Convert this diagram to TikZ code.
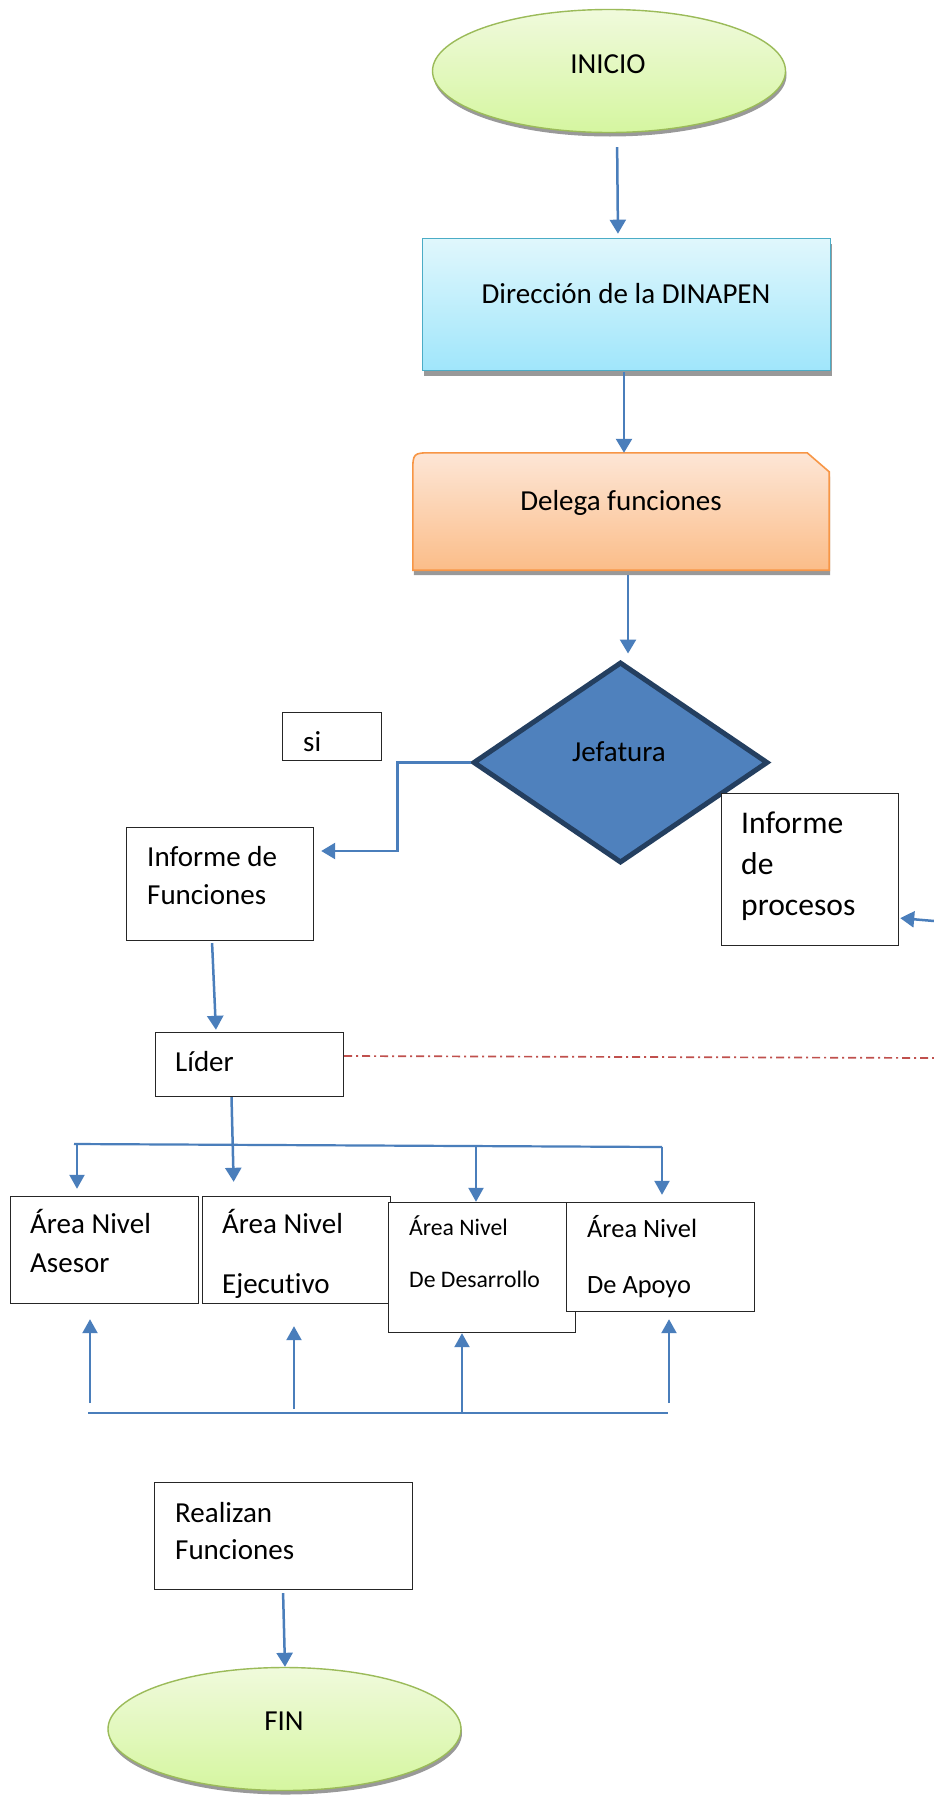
\documentclass[tikz,border=0pt]{standalone}
\usepackage{fontspec}
\setmainfont{Carlito}[Ligatures=NoCommon]
\usetikzlibrary{arrows.meta,shapes.geometric,shadows}
\definecolor{cblue}{HTML}{4A7EBB}
\definecolor{gborder}{HTML}{9BBB59}
\definecolor{gtop}{HTML}{F0FADC}
\definecolor{gbot}{HTML}{D5F6A0}
\definecolor{cyborder}{HTML}{4BACC6}
\definecolor{cytop}{HTML}{E0F7FC}
\definecolor{cybot}{HTML}{A0E6FB}
\definecolor{orborder}{HTML}{F79646}
\definecolor{ortop}{HTML}{FDE6D6}
\definecolor{orbot}{HTML}{FBBD89}
\definecolor{dfill}{HTML}{4F81BD}
\definecolor{dborder}{HTML}{243F60}
\definecolor{redl}{HTML}{C0504D}
\newcommand\myfA{\fontsize{29}{35}\selectfont}
\newcommand\myfB{\fontsize{31.6}{38}\selectfont}
\newcommand\myfC{\fontsize{23.7}{29}\selectfont}
\newcommand\myfD{\fontsize{26.4}{32}\selectfont}
\tikzset{
  conn/.style={draw=cblue, line width=2.5pt, -{Triangle[width=16pt,length=14pt]}},
  conntwo/.style={draw=cblue, line width=2.2pt, -{Triangle[width=15pt,length=14pt]}},
  hline/.style={draw=cblue, line width=2.2pt},
  box/.style={rectangle, draw=black!85, line width=1.4pt, fill=white, inner sep=0pt},
  txt/.style={inner sep=0pt, font=\myfA, anchor=base west},
  term/.style={ellipse, draw=gborder, line width=1.4pt, top color=gtop, bottom color=gbot,
    minimum width=353pt, minimum height=123pt, inner sep=0pt,
    drop shadow={shadow xshift=1pt, shadow yshift=-4pt, fill=black!40, opacity=1}},
  redline/.style={draw=redl, line width=1.7pt, dash pattern=on 8pt off 4pt on 2pt off 4pt}
}
\begin{document}
\begin{tikzpicture}[x=1pt,y=-1pt]
\fill[white] (0,0) rectangle (934,1796);
\useasboundingbox (0,0) rectangle (934,1796);

% INICIO
\node[term] (inicio) at (609,71) {};
\node[txt, anchor=base] (tinicio) at (608,73) {INICIO};

% Direccion
\node[rectangle, draw=cyborder, line width=1.6pt, top color=cytop, bottom color=cybot,
  minimum width=408pt, minimum height=132pt, inner sep=0pt,
  drop shadow={shadow xshift=1pt, shadow yshift=-5pt, fill=black!40, opacity=1}] (dir) at (626.5,304.5) {};
\node[txt, anchor=base] (tdir) at (626,303) {Dirección de la DINAPEN};

% Delega funciones
\node[rectangle, minimum width=416pt, minimum height=117pt, inner sep=0pt] (delega) at (621,511.5) {};
\draw[draw=orborder, line width=1.6pt, top color=ortop, bottom color=orbot,
  drop shadow={shadow xshift=1pt, shadow yshift=-5pt, fill=black!40, opacity=1}]
  (delega.south west) -- ([yshift=-20pt]delega.north west)
  .. controls (delega.north west) .. ([xshift=20pt]delega.north west)
  -- ([xshift=-22pt]delega.north east) -- ([yshift=-19pt]delega.north east)
  -- (delega.south east) -- cycle;
\node[txt, anchor=base] (tdelega) at (621,510) {Delega funciones};

% Jefatura
\node[diamond, draw=dborder, line width=5pt, fill=dfill, minimum width=295pt,
  minimum height=201pt, inner sep=0pt] (jef) at (620.5,762.5) {};
\node[txt, anchor=base] (tjef) at (619,761) {Jefatura};

% si
\node[box, minimum width=99pt, minimum height=48pt] (si) at (332,736.5) {};
\node[txt] (tsi) at (303,751) {si};

% Informe de Funciones
\node[box, minimum width=187pt, minimum height=113pt] (infF) at (220,884) {};
\node[txt] (tinfF1) at (147,866) {Informe de};
\node[txt] (tinfF2) at (147,904) {Funciones};

% Informe de procesos
\node[box, minimum width=177pt, minimum height=152pt] (infP) at (810,869.5) {};
\node[txt, font=\myfB] (tinfP1) at (741,833) {Informe};
\node[txt, font=\myfB] (tinfP2) at (741,874) {de};
\node[txt, font=\myfB] (tinfP3) at (741,915) {procesos};

% Lider
\node[box, minimum width=188pt, minimum height=64pt] (lider) at (249.5,1064.5) {};
\node[txt] (tlider) at (175,1071) {Líder};

% Area boxes
\node[box, minimum width=188pt, minimum height=107pt] (ase) at (104.5,1250) {};
\node[box, minimum width=188pt, minimum height=107pt] (eje) at (296.5,1250) {};
\node[box, minimum width=187pt, minimum height=130pt] (des) at (482,1267.5) {};
\node[box, minimum width=188pt, minimum height=109pt] (apo) at (660.5,1257) {};
\node[txt] (tase1) at (30,1233) {Área Nivel};
\node[txt] (tase2) at (30,1272) {Asesor};
\node[txt] (teje1) at (222,1233) {Área Nivel};
\node[txt] (teje2) at (222,1293) {Ejecutivo};
\node[txt, font=\myfC] (tdes1) at (409,1235) {Área Nivel};
\node[txt, font=\myfC] (tdes2) at (409,1287) {De Desarrollo};
\node[txt, font=\myfD] (tapo1) at (587,1237) {Área Nivel};
\node[txt, font=\myfD] (tapo2) at (587,1293) {De Apoyo};

% Realizan Funciones
\node[box, minimum width=258pt, minimum height=107pt] (rea) at (283.5,1536) {};
\node[txt] (trea1) at (175,1522) {Realizan};
\node[txt] (trea2) at (175,1559) {Funciones};

% FIN
\node[term] (fin) at (284.5,1729) {};
\node[txt, anchor=base] (tfin) at (284,1730) {FIN};

% Connectors
\draw[conn, shorten <=14pt, shorten >=4pt] ([xshift=8pt]inicio.south) -- ([xshift=-8.5pt]dir.north);
\draw[conn, shorten <=1pt] ([xshift=-2.5pt]dir.south) -- ([xshift=-2.5pt]dir.south |- delega.north);
\draw[conn, shorten <=5pt, shorten >=6pt] ([xshift=7pt]delega.south) -- ([xshift=7pt]delega.south |- jef.north);
\draw[conn, shorten >=7pt] (jef.west) -- ++(-73,0) |- ([yshift=33pt]infF.east);
\coordinate (pin) at (934,921);
\draw[conn, shorten >=1pt] (pin) -- ([yshift=-48.5pt]infP.east);
\draw[conn, shorten <=2pt, shorten >=2pt] ([xshift=-8pt]infF.south) -- ([xshift=-33.5pt]lider.north);
\coordinate (rend) at (934,1058);
\draw[redline] ([yshift=8.5pt]lider.east) -- (rend);
\draw[conn, shorten >=14pt] ([xshift=-18pt]lider.south) -- ([xshift=-62.5pt]eje.north);

% upper distribution line
\coordinate (hl) at (74,1144);
\coordinate (hr) at (662,1147);
\coordinate (d1) at (77,1144);
\coordinate (d3) at (476,1146);
\draw[hline] (hl) -- (hr);
\draw[conntwo, shorten >=7pt] (d1) -- (d1 |- ase.north);
\draw[conntwo] (d3) -- (d3 |- des.north);
\draw[conntwo, shorten >=7pt] (hr) -- (hr |- apo.north);

% lower collection line
\coordinate (bl) at (88,1413);
\coordinate (br) at (668,1413);
\draw[hline] (bl) -- (br);
\coordinate (u1) at (90,1403);
\coordinate (u2) at (294,1409);
\coordinate (u3) at (462,1413);
\coordinate (u4) at (669,1403);
\draw[conntwo, shorten >=15pt] (u1) -- (u1 |- ase.south);
\draw[conntwo, shorten >=22pt] (u2) -- (u2 |- eje.south);
\draw[conntwo] (u3) -- (u3 |- des.south);
\draw[conntwo, shorten >=7pt] (u4) -- (u4 |- apo.south);

\draw[conn, shorten <=3pt] ([xshift=-0.5pt]rea.south) -- ([xshift=0.5pt]fin.north);
\end{tikzpicture}
\end{document}
